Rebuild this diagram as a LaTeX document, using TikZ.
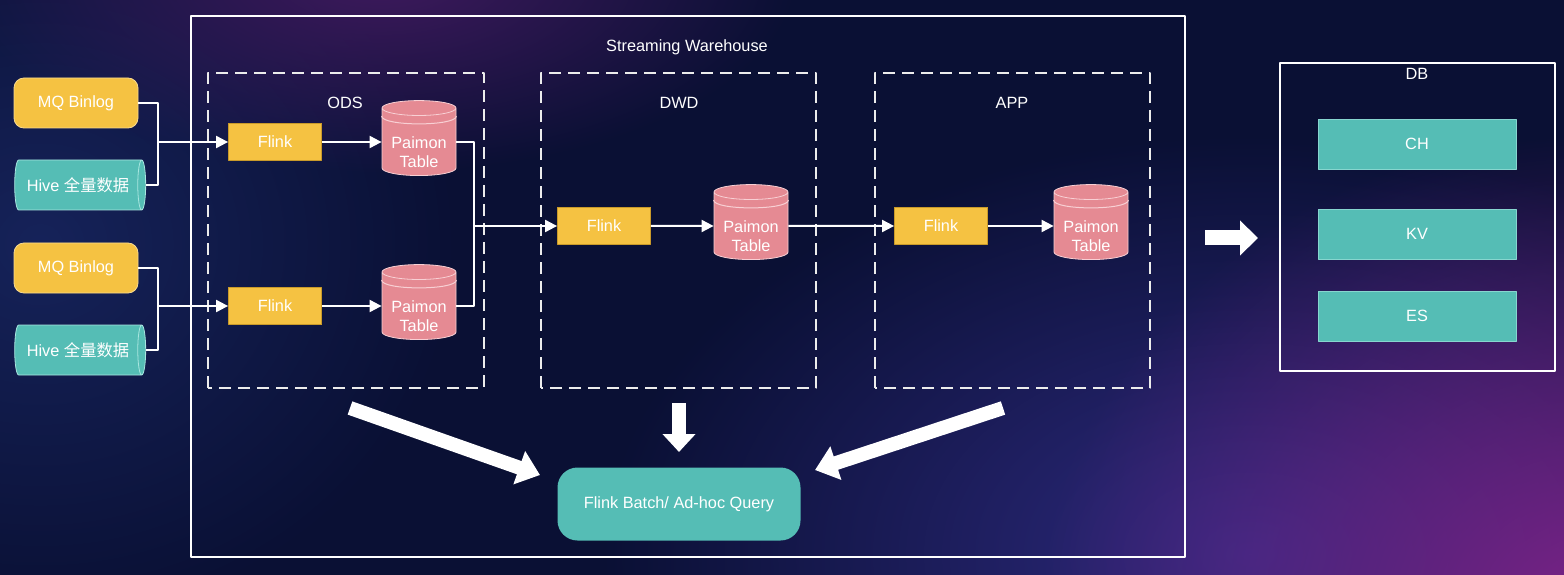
\documentclass[tikz,border=0pt]{standalone}
\usepackage{fontspec}
\setmainfont{Liberation Sans}
\newfontfamily\cjk{Noto Sans CJK SC}
\usetikzlibrary{shapes.geometric,arrows.meta,calc,fadings}
\definecolor{bgnavy}{HTML}{0A1034}
\definecolor{bgblue}{HTML}{16235A}
\definecolor{bgindigo}{HTML}{2E2A80}
\definecolor{bgpurple}{HTML}{7C2388}
\definecolor{bgviolet}{HTML}{3F1A5E}
\definecolor{flinky}{HTML}{F5C242}
\definecolor{flinkedge}{HTML}{C99A2A}
\definecolor{tealbox}{HTML}{55BDB5}
\definecolor{tealedge}{HTML}{A8E6E0}
\definecolor{paimonpink}{HTML}{E58A93}
\definecolor{paimonedge}{HTML}{F8D0D4}
\tikzfading[name=glow,inner color=transparent!0,outer color=transparent!100]
\begin{document}
\begin{tikzpicture}[x=0.5pt,y=0.5pt,line join=round,
  txt/.style={text=white,font=\fontsize{8.15}{9.6}\selectfont},
  srcbox/.style={txt,draw=flinky!60!white,fill=flinky,rounded corners=5pt,minimum width=62pt,minimum height=25pt},
  hivebox/.style={txt,shape=cylinder,draw=tealedge,fill=tealbox,aspect=0.52,minimum width=25pt,minimum height=65.5pt,inner sep=0pt},
  flinkbox/.style={txt,draw=flinkedge,fill=flinky,minimum width=46.5pt,minimum height=18.5pt},
  paimon/.style={txt,shape=cylinder,shape border rotate=90,draw=paimonedge,fill=paimonpink,aspect=0.27,minimum width=37pt,minimum height=37.5pt,inner sep=0pt,align=center},
  stagebox/.style={draw=white!85!gray,line width=1pt,dash pattern=on 6pt off 3.5pt},
  sinkbox/.style={txt,draw=tealedge!60!tealbox,fill=tealbox,minimum width=99pt,minimum height=25pt},
  flow/.style={draw=white,line width=1pt,-{Triangle[length=6pt,width=6pt]}},
  link/.style={draw=white,line width=1pt},
  bigarrow/.style={draw=white,line width=7pt,-{Triangle[length=11pt,width=17pt]}}]
\useasboundingbox (0,0) rectangle (1564,574);
\fill[bgnavy] (-20,-20) rectangle (1584,594);
\begin{scope}
\clip (-20,-20) rectangle (1584,594);
\fill[bgblue,path fading=glow] (40,330) ellipse (420 and 380);
\fill[bgviolet,path fading=glow] (380,600) ellipse (420 and 200);
\fill[bgindigo,path fading=glow] (1250,20) ellipse (650 and 420);
\fill[bgpurple,path fading=glow] (1600,-40) ellipse (560 and 480);
\end{scope}

\draw[white,line width=1pt] (191,17) rectangle (1185,558);
\node[txt] (title) at (687,527) {Streaming Warehouse};
\draw[stagebox] (208,186) rectangle (484,501);
\draw[stagebox] (541,186) rectangle (816,501);
\draw[stagebox] (875,186) rectangle (1150,501);
\node[txt] (ods) at (345,471) {ODS};
\node[txt] (dwd) at (679,471) {DWD};
\node[txt] (app) at (1012,471) {APP};

\node[srcbox] (mq1) at (76,471) {MQ Binlog};
\node[hivebox] (hive1) at (78,389) {Hive {\cjk 全量数据}};
\node[srcbox] (mq2) at (76,306) {MQ Binlog};
\node[hivebox] (hive2) at (78,224) {Hive {\cjk 全量数据}};

\node[flinkbox] (fl1) at (275,432) {Flink};
\node[flinkbox] (fl2) at (275,268) {Flink};
\node[paimon] (pt1) at (419,432) {\mbox{}\\[6.5pt]Paimon\\Table};
\node[paimon] (pt2) at (419,268) {\mbox{}\\[6.5pt]Paimon\\Table};
\node[flinkbox] (fl3) at (604,348) {Flink};
\node[paimon] (pt3) at (751,348) {\mbox{}\\[6.5pt]Paimon\\Table};
\node[flinkbox] (fl4) at (941,348) {Flink};
\node[paimon] (pt4) at (1091,348) {\mbox{}\\[6.5pt]Paimon\\Table};
\foreach \cyl in {pt1,pt2,pt3,pt4}
  \draw[paimonedge,line width=0.5pt] let \p1=(\cyl.north), \p2=(\cyl.before top), \n1={(\y1-\y2)*4/3} in
    ($(\cyl.before top)+(0,-4pt)$) .. controls +(0,-\n1) and +(0,-\n1) .. ($(\cyl.after top)+(0,-4pt)$);

\coordinate (j1) at (158,432);
\coordinate (j2) at (158,268);
\coordinate (j3) at (474,348);
\draw[link] (mq1.east) -| (j1);
\draw[link] (hive1.east) -| (j1);
\draw[flow] (j1) -- (fl1.west);
\draw[link] (mq2.east) -| (j2);
\draw[link] (hive2.east) -| (j2);
\draw[flow] (j2) -- (fl2.west);
\draw[flow] (fl1) -- (pt1);
\draw[flow] (fl2) -- (pt2);
\draw[link] (pt1.east) -| (j3);
\draw[link] (pt2.east) -| (j3);
\draw[flow] (j3) -- (fl3.west);
\draw[flow] (fl3) -- (pt3);
\draw[flow] (pt3) -- (fl4);
\draw[flow] (fl4) -- (pt4);

\node[txt,fill=tealbox,rounded corners=10pt,minimum width=121.5pt,minimum height=36.5pt] (query) at (679,70) {Flink Batch/ Ad-hoc Query};
\coordinate (a1) at (350,166);
\coordinate (a2) at (679,171);
\coordinate (a3) at (1003,166);
\draw[bigarrow] (a1) -- (540,99);
\draw[bigarrow,-{Triangle[length=9pt,width=16pt]}] (a2) -- (679,122);
\draw[bigarrow] (a3) -- (815,104);

\draw[white,line width=1pt] (1280,203) rectangle (1555,511);
\node[txt] (db) at (1417,500) {DB};
\node[sinkbox] (ch) at (1417,430) {CH};
\node[sinkbox] (kv) at (1417,340) {KV};
\node[sinkbox] (es) at (1417,258) {ES};
\coordinate (w1) at (1205,336);
\draw[bigarrow,line width=7.5pt,-{Triangle[length=9pt,width=17pt]}] (w1) -- (1258,336);
\end{tikzpicture}
\end{document}
